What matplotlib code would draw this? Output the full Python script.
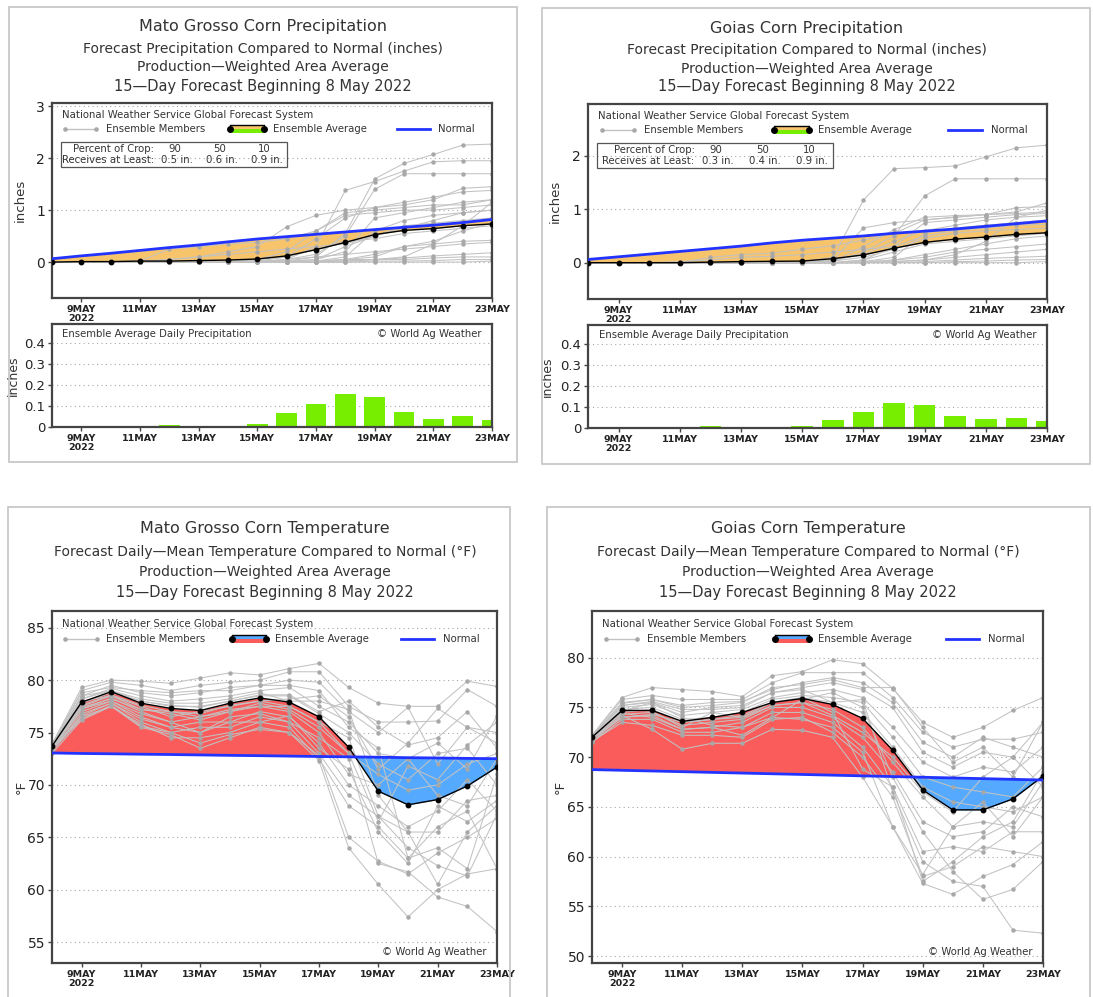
import numpy as np
import matplotlib
matplotlib.use('Agg')
import matplotlib.pyplot as plt
from matplotlib.patches import Rectangle

plt.rcParams['font.family'] = ['DejaVu Sans']

W, H = 1093, 997

# day of May, 8..23
days = np.arange(8, 24)
tick_days = [9, 11, 13, 15, 17, 19, 21, 23]
tick_labels = ['9MAY\n2022', '11MAY', '13MAY', '15MAY', '17MAY', '19MAY', '21MAY', '23MAY']

# ---------------- Mato Grosso precipitation ----------------
mg_p_avg = [0.0, 0.01, 0.01, 0.02, 0.02, 0.03, 0.04, 0.06, 0.12, 0.24, 0.38, 0.53, 0.61, 0.645, 0.70, 0.735]
mg_p_normal = [0.065, 0.12, 0.17, 0.225, 0.28, 0.33, 0.39, 0.445, 0.49, 0.535, 0.58, 0.625, 0.67, 0.71, 0.76, 0.82]
mg_p_daily = [0.003, 0.007, 0.003, 0.005, 0.01, 0.004, 0.004, 0.015, 0.065, 0.11, 0.155, 0.145, 0.072, 0.04, 0.05, 0.035]
mg_p_members = [
    [0, 0, 0, 0, 0, 0, 0, 0, 0.02, 0.1, 0.55, 1.6, 1.9, 2.07, 2.25, 2.27],
    [0, 0, 0, 0, 0, 0, 0, 0.02, 0.05, 0.3, 1.38, 1.55, 1.75, 1.93, 1.95, 1.95],
    [0, 0, 0, 0, 0, 0, 0, 0, 0.05, 0.15, 0.5, 1.4, 1.7, 1.7, 1.7, 1.7],
    [0, 0, 0, 0.02, 0.05, 0.1, 0.2, 0.3, 0.68, 0.9, 1.0, 1.05, 1.1, 1.2, 1.42, 1.45],
    [0, 0, 0, 0, 0, 0, 0, 0.05, 0.2, 0.6, 0.95, 1.0, 1.05, 1.1, 1.1, 1.2],
    [0, 0, 0, 0, 0, 0, 0.02, 0.05, 0.1, 0.45, 0.85, 1.05, 1.15, 1.25, 1.35, 1.38],
    [0, 0, 0.01, 0.02, 0.25, 0.3, 0.35, 0.38, 0.45, 0.6, 0.9, 0.95, 1.0, 1.0, 1.05, 1.1],
    [0, 0, 0, 0, 0, 0, 0, 0, 0.02, 0.05, 0.2, 0.85, 0.95, 1.05, 1.15, 1.2],
    [0, 0, 0, 0, 0, 0, 0, 0, 0, 0.02, 0.1, 0.6, 0.8, 0.9, 0.95, 1.0],
    [0, 0, 0, 0, 0, 0, 0, 0, 0.01, 0.05, 0.3, 0.5, 0.7, 0.75, 0.8, 0.85],
    [0, 0, 0, 0, 0, 0, 0, 0.02, 0.1, 0.25, 0.4, 0.45, 0.55, 0.6, 0.65, 0.7],
    [0, 0, 0, 0, 0, 0, 0, 0, 0, 0, 0.05, 0.1, 0.3, 0.4, 0.6, 0.75],
    [0, 0, 0, 0, 0, 0, 0, 0, 0, 0, 0.02, 0.05, 0.1, 0.35, 0.7, 1.15],
    [0, 0, 0, 0, 0, 0, 0, 0, 0, 0.02, 0.05, 0.15, 0.3, 0.35, 0.4, 0.42],
    [0, 0, 0, 0, 0, 0, 0, 0, 0.05, 0.1, 0.15, 0.2, 0.25, 0.3, 0.35, 0.38],
    [0, 0, 0, 0, 0, 0, 0, 0, 0, 0, 0.02, 0.05, 0.08, 0.12, 0.15, 0.18],
    [0, 0, 0, 0, 0, 0, 0, 0, 0, 0.02, 0.05, 0.05, 0.05, 0.08, 0.1, 0.1],
    [0, 0, 0, 0, 0, 0, 0, 0, 0, 0, 0, 0.02, 0.02, 0.03, 0.05, 0.05],
    [0, 0, 0, 0, 0, 0, 0, 0, 0, 0, 0, 0, 0, 0, 0, 0.02],
    [0, 0, 0, 0, 0.05, 0.1, 0.15, 0.2, 0.25, 0.3, 0.35, 0.5, 0.65, 0.8, 0.95, 1.0],
]
mg_crop = ['90', '50', '10']
mg_least = ['0.5 in.', '0.6 in.', '0.9 in.']

# ---------------- Goias precipitation ----------------
go_p_avg = [0.0, 0.0, 0.0, 0.0, 0.01, 0.02, 0.025, 0.03, 0.075, 0.145, 0.27, 0.38, 0.44, 0.48, 0.53, 0.56]
go_p_normal = [0.06, 0.11, 0.16, 0.21, 0.26, 0.31, 0.37, 0.42, 0.46, 0.5, 0.55, 0.59, 0.63, 0.68, 0.73, 0.78]
go_p_daily = [0.003, 0.003, 0.002, 0.004, 0.01, 0.005, 0.004, 0.008, 0.04, 0.078, 0.12, 0.11, 0.055, 0.045, 0.047, 0.032]
go_p_members = [
    [0, 0, 0, 0, 0, 0, 0, 0.02, 0.1, 1.17, 1.76, 1.78, 1.81, 1.98, 2.15, 2.2],
    [0, 0, 0, 0, 0, 0, 0, 0, 0.02, 0.2, 0.5, 1.25, 1.57, 1.57, 1.57, 1.57],
    [0, 0, 0, 0, 0, 0, 0, 0, 0.05, 0.65, 0.75, 0.8, 0.85, 0.9, 0.95, 1.12],
    [0, 0, 0, 0, 0, 0, 0, 0, 0.02, 0.3, 0.62, 0.85, 0.88, 0.9, 1.03, 1.05],
    [0, 0, 0, 0, 0.1, 0.15, 0.18, 0.25, 0.32, 0.42, 0.55, 0.8, 0.85, 0.9, 0.92, 0.95],
    [0, 0, 0, 0, 0, 0, 0, 0, 0, 0.05, 0.3, 0.75, 0.8, 0.85, 0.9, 0.92],
    [0, 0, 0, 0, 0, 0, 0, 0, 0.05, 0.15, 0.4, 0.6, 0.7, 0.8, 0.85, 0.88],
    [0, 0, 0, 0, 0, 0, 0, 0, 0, 0.02, 0.1, 0.55, 0.65, 0.7, 0.75, 0.8],
    [0, 0, 0, 0, 0, 0, 0, 0.01, 0.03, 0.1, 0.25, 0.45, 0.55, 0.6, 0.62, 0.65],
    [0, 0, 0, 0, 0, 0, 0, 0, 0, 0.05, 0.2, 0.35, 0.4, 0.45, 0.5, 0.55],
    [0, 0, 0, 0, 0, 0, 0, 0, 0, 0, 0.05, 0.15, 0.25, 0.35, 0.45, 0.5],
    [0, 0, 0, 0, 0, 0, 0, 0, 0, 0, 0.02, 0.05, 0.15, 0.4, 0.85, 0.98],
    [0, 0, 0, 0, 0, 0, 0, 0, 0, 0.02, 0.05, 0.1, 0.2, 0.25, 0.3, 0.35],
    [0, 0, 0, 0, 0, 0, 0, 0, 0, 0, 0.02, 0.05, 0.1, 0.15, 0.2, 0.25],
    [0, 0, 0, 0, 0, 0, 0, 0, 0, 0, 0, 0.02, 0.05, 0.08, 0.1, 0.12],
    [0, 0, 0, 0, 0, 0, 0, 0, 0, 0, 0, 0, 0.02, 0.03, 0.05, 0.06],
    [0, 0, 0, 0, 0, 0, 0, 0, 0, 0, 0, 0, 0, 0, 0, 0.02],
    [0, 0, 0, 0.02, 0.05, 0.1, 0.12, 0.15, 0.2, 0.25, 0.3, 0.5, 0.6, 0.65, 0.7, 0.72],
]
go_crop = ['90', '50', '10']
go_least = ['0.3 in.', '0.4 in.', '0.9 in.']

# ---------------- Mato Grosso temperature ----------------
mg_t_avg = [73.7, 77.9, 78.9, 77.8, 77.3, 77.1, 77.8, 78.3, 77.9, 76.5, 73.6, 69.4, 68.1, 68.6, 69.9, 71.7]
mg_t_normal = [73.05, 73.0, 72.97, 72.93, 72.9, 72.86, 72.82, 72.79, 72.75, 72.71, 72.68, 72.64, 72.6, 72.57, 72.53, 72.5]
mg_t_members = [
    [73.9, 79.3, 80.0, 79.9, 79.7, 80.2, 80.7, 80.5, 81.1, 81.6, 79.3, 77.8, 77.5, 77.5, 79.9, 79.4],
    [73.8, 79.0, 79.8, 79.5, 79.0, 79.5, 79.8, 80.0, 80.8, 80.8, 77.5, 76.0, 76.0, 76.1, 79.1, 77.5],
    [73.6, 78.5, 79.5, 78.8, 78.5, 78.8, 79.3, 79.5, 80.0, 79.8, 77.0, 75.0, 77.4, 72.0, 75.5, 74.0],
    [73.7, 78.2, 79.2, 78.5, 78.0, 78.2, 78.5, 79.0, 79.3, 77.5, 76.0, 73.0, 72.5, 74.0, 71.5, 76.6],
    [73.5, 77.8, 78.8, 78.0, 77.5, 77.5, 78.0, 78.5, 78.5, 76.8, 75.0, 72.0, 70.5, 73.0, 73.5, 70.0],
    [73.6, 77.5, 78.5, 77.5, 76.5, 77.0, 77.5, 78.0, 77.5, 76.0, 73.0, 71.0, 69.5, 70.0, 72.0, 73.0],
    [73.4, 77.2, 78.3, 77.0, 76.0, 76.5, 77.0, 77.5, 77.0, 75.0, 71.0, 70.0, 72.5, 69.0, 68.0, 72.5],
    [73.5, 77.0, 78.0, 76.5, 75.5, 76.0, 76.0, 77.0, 76.5, 74.0, 70.0, 68.0, 66.0, 67.5, 70.5, 67.5],
    [73.3, 76.8, 77.8, 76.0, 75.0, 75.5, 75.5, 76.5, 76.0, 73.0, 69.0, 67.0, 65.5, 65.5, 68.5, 69.0],
    [73.2, 76.5, 77.5, 75.8, 74.5, 74.5, 75.0, 76.0, 75.5, 72.5, 68.0, 66.0, 63.0, 66.0, 67.5, 62.0],
    [73.0, 76.2, 77.5, 75.5, 74.8, 73.5, 74.5, 75.5, 75.0, 72.8, 65.0, 62.7, 61.5, 63.5, 65.0, 66.8],
    [73.4, 76.3, 77.6, 75.6, 75.0, 74.0, 74.8, 75.3, 75.0, 72.3, 64.0, 60.5, 57.4, 60.0, 61.5, 62.0],
    [73.6, 77.3, 78.0, 76.8, 76.0, 75.0, 76.5, 76.8, 76.0, 74.5, 72.5, 62.5, 61.7, 59.3, 58.4, 56.0],
    [73.5, 78.0, 78.5, 77.2, 77.0, 76.5, 77.2, 77.5, 77.5, 76.0, 74.5, 67.0, 64.0, 62.3, 61.3, 67.2],
    [73.7, 78.5, 79.0, 78.2, 77.8, 77.8, 78.2, 78.8, 78.0, 78.0, 77.2, 69.0, 65.5, 60.5, 65.5, 68.0],
    [73.8, 78.8, 79.3, 79.0, 78.8, 79.0, 79.0, 79.5, 79.5, 79.0, 75.5, 73.5, 63.0, 64.0, 62.0, 71.0],
    [73.6, 77.6, 78.6, 77.6, 77.0, 76.8, 77.6, 78.0, 78.2, 78.5, 76.5, 71.5, 74.0, 77.3, 75.5, 75.0],
    [73.4, 76.6, 77.8, 76.3, 75.5, 75.0, 76.0, 76.0, 76.6, 73.5, 71.5, 65.5, 62.5, 68.0, 66.5, 68.5],
    [73.5, 77.4, 78.2, 77.2, 76.8, 76.2, 77.0, 77.8, 77.2, 75.5, 73.0, 66.5, 71.8, 70.5, 73.8, 76.0],
    [73.7, 78.2, 79.0, 78.0, 77.6, 77.4, 78.0, 78.6, 78.6, 77.0, 78.0, 75.5, 73.8, 74.5, 77.0, 73.5],
]

# ---------------- Goias temperature ----------------
go_t_avg = [72.0, 74.7, 74.7, 73.6, 74.0, 74.5, 75.5, 75.9, 75.3, 73.9, 70.7, 66.7, 64.7, 64.7, 65.8, 68.1]
go_t_normal = [68.75, 68.68, 68.61, 68.54, 68.47, 68.4, 68.33, 68.26, 68.19, 68.12, 68.05, 67.98, 67.91, 67.84, 67.77, 67.7]
go_t_members = [
    [72.2, 76.0, 77.0, 76.8, 76.6, 76.1, 78.2, 78.6, 79.8, 79.4, 76.9, 73.5, 72.0, 73.0, 74.7, 76.0],
    [72.1, 75.8, 76.2, 75.8, 75.8, 75.8, 77.5, 78.5, 78.5, 78.5, 76.0, 72.5, 71.0, 71.8, 71.8, 72.5],
    [72.0, 75.5, 75.8, 75.2, 75.5, 75.6, 76.8, 77.5, 78.0, 77.5, 75.5, 71.5, 70.0, 72.0, 71.0, 70.0],
    [72.0, 75.2, 75.5, 74.5, 75.0, 75.2, 76.5, 77.0, 77.5, 76.8, 75.0, 70.5, 69.0, 70.5, 70.0, 73.5],
    [71.9, 75.0, 75.3, 74.2, 74.5, 74.8, 76.0, 76.5, 76.8, 76.0, 73.0, 69.5, 68.0, 69.0, 68.5, 71.0],
    [71.8, 74.8, 75.0, 73.8, 74.0, 74.5, 75.8, 76.2, 76.0, 75.5, 72.0, 68.0, 67.0, 66.5, 66.0, 69.0],
    [72.0, 74.5, 74.8, 73.5, 73.8, 74.2, 75.5, 76.0, 75.5, 74.5, 71.0, 67.0, 65.5, 65.0, 64.5, 66.0],
    [71.7, 74.3, 74.5, 73.2, 73.5, 73.8, 75.2, 75.5, 74.8, 73.0, 69.5, 66.0, 63.0, 63.5, 63.0, 67.5],
    [71.8, 74.0, 74.2, 72.8, 73.0, 73.5, 75.0, 75.0, 74.0, 72.0, 68.5, 63.5, 62.0, 62.5, 65.0, 64.0],
    [71.5, 73.8, 73.8, 72.5, 72.5, 73.0, 74.5, 74.5, 73.5, 71.0, 67.0, 60.5, 61.0, 60.5, 62.5, 62.5],
    [71.6, 73.5, 73.2, 72.2, 72.2, 72.0, 73.8, 74.0, 72.5, 70.0, 66.0, 58.0, 59.0, 61.0, 60.5, 60.0],
    [71.5, 74.2, 72.8, 70.8, 71.4, 71.4, 72.8, 72.7, 72.0, 68.0, 63.0, 57.3, 56.2, 58.0, 59.2, 61.5],
    [71.7, 74.6, 75.5, 74.0, 73.2, 73.0, 74.0, 75.8, 76.5, 75.0, 68.0, 62.5, 58.5, 55.7, 56.7, 59.5],
    [72.1, 75.2, 75.6, 74.8, 74.8, 75.0, 76.5, 76.8, 75.5, 75.8, 66.5, 59.5, 57.5, 57.0, 52.6, 52.3],
    [72.0, 74.8, 74.6, 73.0, 74.5, 74.0, 75.5, 76.0, 74.5, 68.8, 67.0, 57.5, 59.5, 62.0, 63.5, 68.5],
    [71.9, 74.4, 74.0, 72.8, 73.0, 72.2, 74.0, 73.8, 73.0, 70.5, 63.0, 58.2, 63.0, 65.5, 62.0, 66.0],
    [72.1, 75.4, 75.8, 75.0, 75.2, 75.5, 77.0, 77.3, 77.8, 77.0, 77.0, 73.0, 69.5, 71.0, 68.0, 73.5],
    [71.8, 74.0, 74.3, 73.5, 73.8, 74.0, 75.2, 75.5, 74.2, 72.5, 70.0, 66.5, 64.5, 68.0, 70.0, 67.0],
]

ORANGE = '#F7C46C'
GREEN = '#77EE00'
RED = '#FA5C5C'
BLUE = '#55AAFF'
NORMAL = '#2233FF'
MEMBER = '#c2c2c2'
MEMBER_DOT = '#a8a8a8'
TXT = '#333333'
NARROW = ['Liberation Sans Narrow', 'DejaVu Sans Condensed', 'DejaVu Sans']


def add_axes_px(fig, left, top, right, bottom):
    return fig.add_axes([left / W, 1 - bottom / H, (right - left) / W, (bottom - top) / H])


def panel_box(fig, left, top, right, bottom):
    fig.add_artist(Rectangle((left / W, 1 - bottom / H), (right - left) / W, (bottom - top) / H,
                             transform=fig.transFigure, fill=False, edgecolor='#c8c8c8', lw=1.3))


def titles(fig, cx, ys, lines):
    sizes = [11.5, 10, 10, 10.5]
    for y, txt, s in zip(ys, lines, sizes):
        fig.text(cx / W, 1 - y / H, txt, ha='center', va='center', fontsize=s, color=TXT)


def style(ax, yticks, ylabels, ylim, ysize=10):
    ax.set_xlim(8, 23)
    ax.set_ylim(*ylim)
    ax.set_yticks(yticks)
    ax.set_yticklabels(ylabels, fontsize=ysize, color='#222222')
    ax.set_xticks(tick_days)
    ax.set_xticklabels(tick_labels, fontsize=6.8, fontweight='bold', family=NARROW,
                       linespacing=0.95, color='#222222')
    ax.tick_params(axis='both', direction='out', length=3, width=1, color='#444444', pad=2)
    for sp in ax.spines.values():
        sp.set_color('#444444')
        sp.set_linewidth(1.6)
    ax.yaxis.grid(True, linestyle=(0, (1, 3)), color='#a8a8a8', lw=0.8)
    ax.set_axisbelow(True)


def legend(ax, ax_h_px, c_top, c_bottom, y1, y2):
    ax.text(0.022, y1, 'National Weather Service Global Forecast System', transform=ax.transAxes,
            fontsize=7.3, color=TXT, va='center')
    ax.plot([0.03, 0.10], [y2, y2], transform=ax.transAxes, color=MEMBER, lw=1,
            marker='o', ms=2.3, mfc=MEMBER_DOT, mec=MEMBER_DOT, clip_on=False)
    ax.text(0.122, y2, 'Ensemble Members', transform=ax.transAxes, fontsize=7.3, color=TXT, va='center')
    hh = 4.0 / ax_h_px
    ax.add_patch(Rectangle((0.405, y2), 0.077, hh, transform=ax.transAxes, color=c_top, lw=0))
    ax.add_patch(Rectangle((0.405, y2 - hh), 0.077, hh, transform=ax.transAxes, color=c_bottom, lw=0))
    ax.plot([0.405, 0.482], [y2 + hh, y2 + hh], transform=ax.transAxes, color='black', lw=1)
    ax.plot([0.405, 0.482], [y2, y2], transform=ax.transAxes, color='black', lw=0,
            marker='o', ms=4, mfc='black', mec='black')
    ax.text(0.502, y2, 'Ensemble Average', transform=ax.transAxes, fontsize=7.3, color=TXT, va='center')
    ax.plot([0.784, 0.858], [y2, y2], transform=ax.transAxes, color=NORMAL, lw=2)
    ax.text(0.878, y2, 'Normal', transform=ax.transAxes, fontsize=7.3, color=TXT, va='center')


def draw_members(ax, members):
    for m in members:
        ax.plot(days, m, color=MEMBER, lw=0.75, marker='o', ms=2.2,
                mfc=MEMBER_DOT, mec=MEMBER_DOT, zorder=2)


def precip_panel(fig, box, main_px, bar_px, cx, title_ys, name, avg, normal, daily, members,
                 crop, least, ylim, yticks):
    panel_box(fig, *box)
    titles(fig, cx, title_ys, [name + ' Corn Precipitation',
                                'Forecast Precipitation Compared to Normal (inches)',
                                'Production\u2014Weighted Area Average',
                                '15\u2014Day Forecast Beginning 8 May 2022'])
    ax = add_axes_px(fig, *main_px)
    style(ax, yticks, [str(t) for t in yticks], ylim)
    avg = np.array(avg)
    normal = np.array(normal)
    ax.fill_between(days, avg, normal, where=normal >= avg, interpolate=True,
                    color=ORANGE, lw=0, zorder=1)
    ax.fill_between(days, avg, normal, where=avg > normal, interpolate=True,
                    color=GREEN, lw=0, zorder=1)
    draw_members(ax, members)
    ax.plot(days, avg, color='black', lw=1, marker='o', ms=3.2, zorder=4)
    ax.plot(days, normal, color=NORMAL, lw=2, zorder=5)
    ax.set_ylabel('inches', fontsize=9.5, color=TXT)
    ax.yaxis.set_label_coords(-0.058, 0.5)
    ax_h = main_px[3] - main_px[1]
    legend(ax, ax_h, ORANGE, GREEN, 0.94, 0.867)
    # crop box
    ax.add_patch(Rectangle((0.02, 0.672), 0.514, 0.128, transform=ax.transAxes,
                           fill=False, edgecolor='#555555', lw=0.9))
    ax.text(0.232, 0.764, 'Percent of Crop:', transform=ax.transAxes, ha='right', va='center',
            fontsize=7.3, color=TXT)
    ax.text(0.232, 0.708, 'Receives at Least:', transform=ax.transAxes, ha='right', va='center',
            fontsize=7.3, color=TXT)
    for xc, c, l in zip([0.278, 0.38, 0.482], crop, least):
        ax.text(xc, 0.764, c, transform=ax.transAxes, ha='center', va='center', fontsize=7.3, color=TXT)
        ax.text(xc + 0.006, 0.708, l, transform=ax.transAxes, ha='center', va='center', fontsize=7.3,
                color=TXT)

    bx = add_axes_px(fig, *bar_px)
    style(bx, [0, 0.1, 0.2, 0.3, 0.4], ['0', '0.1', '0.2', '0.3', '0.4'], (0, 0.49), ysize=9.5)
    bx.bar(days, daily, width=0.7, color=GREEN, lw=0, zorder=2)
    bx.set_ylabel('inches', fontsize=9, color=TXT)
    bx.yaxis.set_label_coords(-0.074, 0.5)
    bx.text(0.023, 0.9, 'Ensemble Average Daily Precipitation', transform=bx.transAxes,
            fontsize=7.3, color=TXT, va='center')
    bx.text(0.977, 0.9, '\u00a9 World Ag Weather', transform=bx.transAxes, ha='right',
            fontsize=7.3, color=TXT, va='center')


def temp_panel(fig, box, main_px, cx, title_ys, name, avg, normal, members, ylim, yticks):
    panel_box(fig, *box)
    titles(fig, cx, title_ys, [name + ' Corn Temperature',
                                'Forecast Daily\u2014Mean Temperature Compared to Normal (\u00b0F)',
                                'Production\u2014Weighted Area Average',
                                '15\u2014Day Forecast Beginning 8 May 2022'])
    ax = add_axes_px(fig, *main_px)
    style(ax, yticks, [str(t) for t in yticks], ylim)
    avg = np.array(avg)
    normal = np.array(normal)
    ax.fill_between(days, avg, normal, where=avg >= normal, interpolate=True,
                    color=RED, lw=0, zorder=1)
    ax.fill_between(days, avg, normal, where=avg < normal, interpolate=True,
                    color=BLUE, lw=0, zorder=1)
    draw_members(ax, members)
    ax.plot(days, avg, color='black', lw=1, marker='o', ms=3.2, zorder=4)
    ax.plot(days, normal, color=NORMAL, lw=2, zorder=5)
    ax.set_ylabel('\u00b0F', fontsize=9.5, color=TXT)
    ax.yaxis.set_label_coords(-0.055, 0.5)
    ax_h = main_px[3] - main_px[1]
    legend(ax, ax_h, BLUE, RED, 0.963, 0.92)
    ax.text(0.977, 0.031, '\u00a9 World Ag Weather', transform=ax.transAxes, ha='right',
            fontsize=7.3, color=TXT, va='center')


fig = plt.figure(figsize=(W / 100, H / 100), dpi=100)
fig.patch.set_facecolor('white')

precip_panel(fig, (9, 7, 517, 462), (52, 103, 492, 298), (52, 324, 492, 427), 263,
             [27, 49, 67, 86], 'Mato Grosso', mg_p_avg, mg_p_normal, mg_p_daily, mg_p_members,
             mg_crop, mg_least, (-0.69, 3.06), [0, 1, 2, 3])
precip_panel(fig, (542, 8, 1090, 464), (588, 104, 1047, 299), (588, 325, 1047, 428), 807,
             [28, 50, 69, 87], 'Goias', go_p_avg, go_p_normal, go_p_daily, go_p_members,
             go_crop, go_least, (-0.68, 2.97), [0, 1, 2])
temp_panel(fig, (8, 507, 510, 1000), (52, 611, 497, 963), 265, [528, 552, 572, 592],
           'Mato Grosso', mg_t_avg, mg_t_normal, mg_t_members, (53, 86.6), [55, 60, 65, 70, 75, 80, 85])
temp_panel(fig, (547, 507, 1090, 1000), (592, 611, 1043, 963), 808, [528, 552, 572, 592],
           'Goias', go_t_avg, go_t_normal, go_t_members, (49.3, 84.7), [50, 55, 60, 65, 70, 75, 80])

fig.savefig('out.png', dpi=100)
